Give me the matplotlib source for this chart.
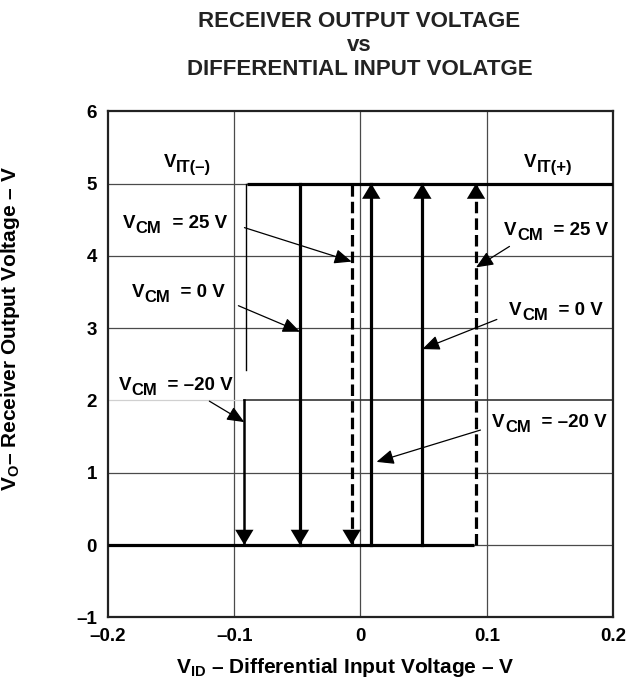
import matplotlib
matplotlib.use("Agg")
import matplotlib.pyplot as plt

plt.rcParams['font.family'] = ['Liberation Sans', 'DejaVu Sans']
plt.rcParams['font.weight'] = 'bold'
plt.rcParams['mathtext.fontset'] = 'custom'
plt.rcParams['mathtext.rm'] = 'Liberation Sans:bold'
plt.rcParams['mathtext.it'] = 'Liberation Sans:bold'
plt.rcParams['mathtext.bf'] = 'Liberation Sans:bold'

# ---- data ----
vcm_labels = ['–20 V', '0 V', '25 V']
x_fall = [-0.092, -0.048, -0.007]      # V_IT(-) for each V_CM
x_rise = [0.0085, 0.049, 0.0915]       # V_IT(+) for each V_CM
dashed = [False, False, True]
v_low, v_high = 0, 5
low_end = 0.090                        # output low segment ends here
high_start = -0.0895                   # output high segment starts here
m20_upper = (5, 2.42)                  # -20 V falling trace, thin part
m20_lower = (2.0, 0)                   # -20 V falling trace, lower part

xticks = [-0.2, -0.1, 0, 0.1, 0.2]
xtick_labels = ['–0.2', '–0.1', '0', '0.1', '0.2']
yticks = [-1, 0, 1, 2, 3, 4, 5, 6]
ytick_labels = ['–1', '0', '1', '2', '3', '4', '5', '6']

# label start (left edge, baseline) and arrow (start, tip) in data units
left_text = [(-0.1914, 2.147), (-0.1812, 3.435), (-0.1882, 4.391)]
left_arrow = [((-0.1197, 1.99), (-0.092, 1.70)),
              ((-0.0967, 3.31), (-0.048, 2.95)),
              ((-0.0919, 4.39), (-0.007, 3.92))]
right_text = [(0.1043, 1.634), (0.1176, 3.186), (0.1137, 4.294)]
right_arrow = [((0.095, 1.59), (0.0127, 1.15)),
               ((0.108, 3.12), (0.049, 2.71)),
               ((0.118, 4.13), (0.0915, 3.84))]
vit_text = [(-0.1561, 5.235, 'IT(–)'), (0.1294, 5.235, 'IT(+)')]

fig = plt.figure(figsize=(6.34, 6.81), dpi=100)
ax = fig.add_axes([0.1703, 0.0935, 0.7966, 0.7432])
ax.set_xlim(-0.2, 0.2)
ax.set_ylim(-1, 6)


def sub_label(x, y, sub, rest, fs=13.5, sfs=12):
    t1 = ax.text(x, y, 'V', fontsize=fs, ha='left', va='baseline', zorder=6)
    t2 = ax.annotate(sub, xy=(1, 0), xycoords=t1, xytext=(0.3, -3.2),
                     textcoords='offset points', fontsize=sfs, ha='left', va='bottom', zorder=6)
    if rest:
        ax.annotate(rest, xy=(1, 0), xycoords=(t2, t1), xytext=(0, 0),
                    textcoords='offset points', fontsize=fs, ha='left', va='bottom', zorder=6)


# grid
grid_c = '#4a4a4a'
for gx in xticks[1:-1]:
    ax.axvline(gx, color=grid_c, lw=0.9, zorder=1)
for gy in yticks[1:-1]:
    if gy == 2:
        ax.plot([-0.2, x_fall[0]], [gy, gy], color='#d0d0d0', lw=0.9, zorder=1)
        ax.plot([x_fall[0], 0.2], [gy, gy], color='#333333', lw=1.2, zorder=1)
    else:
        ax.axhline(gy, color=grid_c, lw=0.9, zorder=1)

lw = 2.3
ax.plot([-0.2, low_end], [v_low, v_low], color='k', lw=lw, solid_capstyle='butt', zorder=3)
ax.plot([high_start, 0.2], [v_high, v_high], color='k', lw=lw, solid_capstyle='butt', zorder=3)

head = dict(arrowstyle='-|>,head_length=0.55,head_width=0.33', color='k', lw=0,
            shrinkA=0, shrinkB=0, mutation_scale=20)

for i, (xf, xr, d) in enumerate(zip(x_fall, x_rise, dashed)):
    ls = (0, (3.6, 1.6)) if d else '-'
    if i == 0:
        ax.plot([xf + 0.0012, xf + 0.0012], m20_upper, color='k', lw=1.0, zorder=3)
        ax.plot([xf, xf], m20_lower, color='k', lw=1.8, zorder=3)
    else:
        ax.plot([xf, xf], [v_low, v_high], color='k', lw=lw, ls=ls, zorder=3)
    ax.plot([xr, xr], [v_low, v_high], color='k', lw=lw, ls=ls, zorder=3)
    ax.annotate('', xy=(xf, v_low), xytext=(xf, v_low + 0.4), arrowprops=head, zorder=4)
    ax.annotate('', xy=(xr, v_high), xytext=(xr, v_high - 0.4), arrowprops=head, zorder=4)

small = dict(arrowstyle='-|>,head_length=0.75,head_width=0.32', color='k', lw=0.9,
             shrinkA=0, shrinkB=0, mutation_scale=14)
for lab, t, a in zip(vcm_labels, left_text, left_arrow):
    sub_label(t[0], t[1], 'CM', '  = ' + lab)
    ax.annotate('', xy=a[1], xytext=a[0], arrowprops=small, zorder=5)
for lab, t, a in zip(vcm_labels, right_text, right_arrow):
    sub_label(t[0], t[1], 'CM', '  = ' + lab)
    ax.annotate('', xy=a[1], xytext=a[0], arrowprops=small, zorder=5)
for x, y, s in vit_text:
    sub_label(x, y, s, '')

ax.set_xticks(xticks)
ax.set_xticklabels(xtick_labels, fontsize=13.5, fontweight='bold')
ax.set_yticks(yticks)
ax.set_yticklabels(ytick_labels, fontsize=13.5, fontweight='bold')
ax.tick_params(axis='y', length=0, pad=8)
ax.tick_params(axis='x', length=0, pad=8)
for s in ax.spines.values():
    s.set_linewidth(1.6)
    s.set_color('#222222')

ax.set_xlabel(r'V$_{\mathregular{ID}}$ – Differential Input Voltage – V', fontsize=15,
              fontweight='bold')
ax.xaxis.set_label_coords(0.47, -0.077)
ax.set_ylabel(r'V$_{\mathregular{O}}$– Receiver Output Voltage – V', fontsize=15,
              fontweight='bold')
ax.yaxis.set_label_coords(-0.17, 0.57)
fig.text(0.567, 0.984, 'RECEIVER OUTPUT VOLTAGE\nvs\nDIFFERENTIAL INPUT VOLATGE',
         fontsize=16, fontweight='bold', ha='center', va='top', linespacing=1.2,
         color='#222222')

fig.savefig('out.png', dpi=100)
